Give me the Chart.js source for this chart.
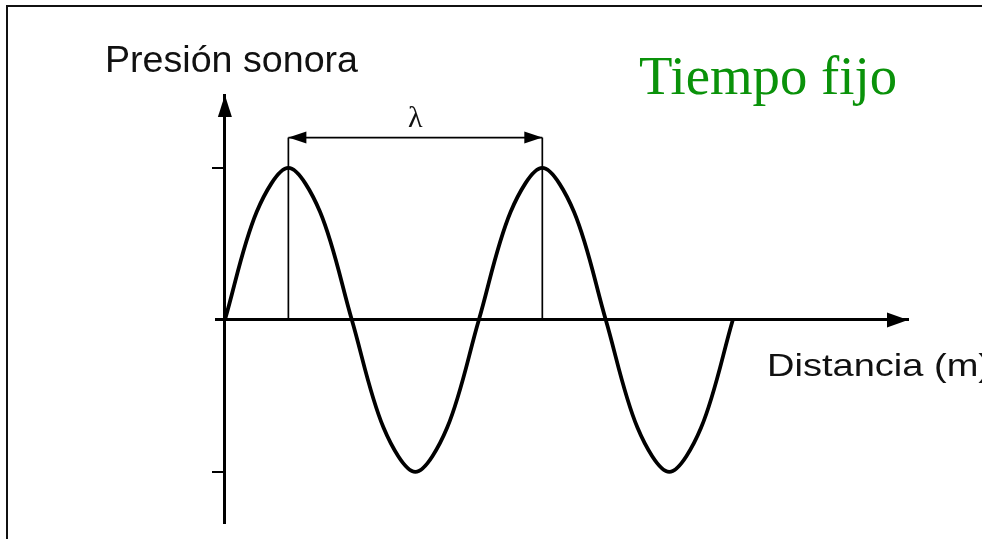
<!DOCTYPE html>
<html lang="es">
<head>
<meta charset="utf-8">
<title>Tiempo fijo</title>
<script src="https://cdn.jsdelivr.net/npm/chart.js@4.4.1/dist/chart.umd.min.js"></script>
<style>
  html, body { margin: 0; padding: 0; background: #fff; }
  #wrap { position: relative; width: 982px; height: 539px; overflow: hidden; }
  #frame { position: absolute; left: 6px; top: 5px; width: 1200px; height: 800px;
           border-left: 2px solid #111; border-top: 2px solid #111; }
  #wave { position: absolute; left: 0; top: 0; }
</style>
</head>
<body>
<div id="wrap">
  <div id="frame"></div>
  <canvas id="wave" width="982" height="539"></canvas>
</div>
<script>
// ====== datos: distancia (en longitudes de onda) y presión relativa ======
const distance = [0, 0.125, 0.25, 0.375, 0.5, 0.625, 0.75, 0.875, 1,
                  1.125, 1.25, 1.375, 1.5, 1.625, 1.75, 1.875, 2];
const pressure = [0, 0.71, 1, 0.71, 0, -0.71, -1, -0.71, 0,
                  0.71, 1, 0.71, 0, -0.71, -1, -0.71, 0];
const peakMarks = [0.25, 1.25];     // crestas unidas por la flecha λ
const lambdaLevel = 1.2;            // altura de la flecha λ
const yTicks = [-1, 1];
const xRange = [-0.035, 2.69];
const yRange = [-1.336, 1.48];

// ====== flechas y textos ======
function arrowHead(ctx, tipX, tipY, dir, len, half) {
  // dir: 'up' | 'right' | 'left'
  ctx.beginPath();
  ctx.moveTo(tipX, tipY);
  if (dir === "up") {
    ctx.lineTo(tipX - half, tipY + len);
    ctx.lineTo(tipX + half, tipY + len);
  } else if (dir === "right") {
    ctx.lineTo(tipX - len, tipY - half);
    ctx.lineTo(tipX - len, tipY + half);
  } else {
    ctx.lineTo(tipX + len, tipY - half);
    ctx.lineTo(tipX + len, tipY + half);
  }
  ctx.closePath();
  ctx.fill();
}

function fitText(ctx, text, x, y, font, color, width, align) {
  ctx.save();
  ctx.font = font;
  ctx.fillStyle = color;
  ctx.textBaseline = "alphabetic";
  const w = ctx.measureText(text).width;
  const k = width ? width / w : 1;
  const left = align === "center" ? x - (w * k) / 2 : x;
  ctx.translate(left, y);
  ctx.scale(k, 1);
  ctx.fillText(text, 0, 0);
  ctx.restore();
}

const decor = {
  id: "decor",
  afterDraw(chart) {
    const { ctx, chartArea, scales } = chart;
    const x0 = scales.x.getPixelForValue(0);
    const y0 = scales.y.getPixelForValue(0);
    const yl = scales.y.getPixelForValue(lambdaLevel);
    ctx.save();
    ctx.fillStyle = "#000";
    arrowHead(ctx, x0, chartArea.top, "up", 22, 7);
    arrowHead(ctx, chartArea.right, y0, "right", 21, 7.5);
    arrowHead(ctx, scales.x.getPixelForValue(peakMarks[0]), yl, "left", 18, 6);
    arrowHead(ctx, scales.x.getPixelForValue(peakMarks[1]), yl, "right", 18, 6);
    ctx.restore();

    const mid = scales.x.getPixelForValue((peakMarks[0] + peakMarks[1]) / 2);
    fitText(ctx, "λ", mid, yl - 11, '30px "Liberation Serif"', "#111", 0, "center");
    fitText(ctx, "Presión sonora", 105, 72, '36px "Liberation Sans"', "#111", 253);
    fitText(ctx, "Distancia (m)", 767, 376, '32px "Liberation Sans"', "#111", 224);
    fitText(ctx, "Tiempo fijo", 639, 94, '54px "Liberation Serif"', "#0a920a", 258);
  },
};

const wavePoints = distance.map((d, i) => ({ x: d, y: pressure[i] }));
const markLines = peakMarks.map((d) => ({
  data: [{ x: d, y: 0 }, { x: d, y: lambdaLevel }],
  borderColor: "#000",
  borderWidth: 1.7,
  pointRadius: 0,
}));

new Chart(document.getElementById("wave"), {
  type: "line",
  data: {
    datasets: [
      {
        label: "Presión sonora",
        data: wavePoints,
        borderColor: "#000",
        borderWidth: 3.8,
        pointRadius: 0,
        tension: 0.33,
      },
      ...markLines,
      {
        data: [{ x: peakMarks[0], y: lambdaLevel }, { x: peakMarks[1], y: lambdaLevel }],
        borderColor: "#000",
        borderWidth: 1.8,
        pointRadius: 0,
      },
    ],
  },
  options: {
    responsive: false,
    animation: false,
    layout: { padding: { left: 216, right: 74, top: 95, bottom: 16 } },
    plugins: { legend: { display: false }, tooltip: { enabled: false } },
    scales: {
      x: {
        type: "linear",
        min: xRange[0],
        max: xRange[1],
        position: { y: 0 },
        grid: { display: false },
        ticks: { display: false },
        border: { color: "#000", width: 3 },
      },
      y: {
        type: "linear",
        min: yRange[0],
        max: yRange[1],
        position: { x: 0 },
        afterBuildTicks: (s) => { s.ticks = yTicks.map((v) => ({ value: v })); },
        grid: { drawOnChartArea: false, drawTicks: true, tickLength: 11, color: "#000", lineWidth: 2 },
        ticks: { display: false },
        border: { color: "#000", width: 3 },
      },
    },
  },
  plugins: [decor],
});
</script>
</body>
</html>
